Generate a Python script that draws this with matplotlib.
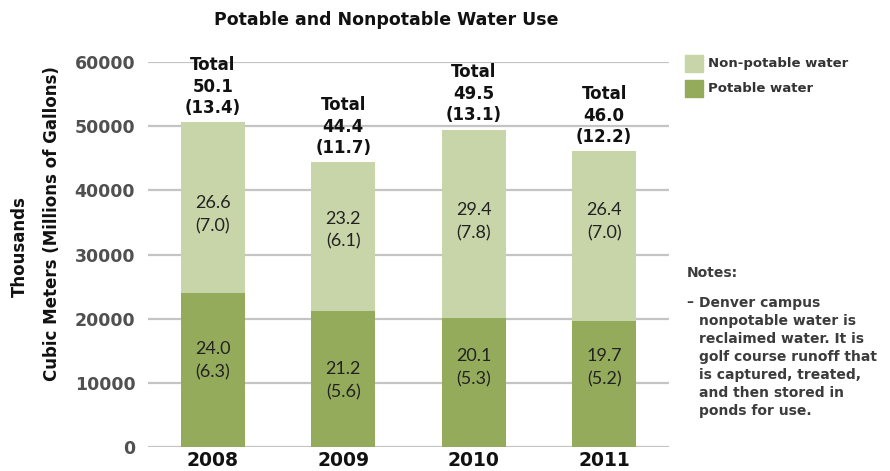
import matplotlib.pyplot as plt
import numpy as np

# Data (thousands of cubic meters, millions of gallons in brackets)
years = ['2008', '2009', '2010', '2011']
potable = [24.0, 21.2, 20.1, 19.7]
potable_gal = [6.3, 5.6, 5.3, 5.2]
nonpotable = [26.6, 23.2, 29.4, 26.4]
nonpotable_gal = [7.0, 6.1, 7.8, 7.0]
totals = [50.1, 44.4, 49.5, 46.0]
totals_gal = [13.4, 11.7, 13.1, 12.2]

# where the in-bar labels sit (y, axis units), as placed in the original
pot_label_y = [13400, 10300, 12300, 12300]
nonpot_label_y = [36200, 33800, 35100, 35100]

light = '#c8d5a9'
dark = '#94ab5c'
bold_font = ['DejaVu Sans']
plain_font = ['Lato', 'DejaVu Sans']

fig = plt.figure(figsize=(8.9, 4.71), dpi=100)
ax = fig.add_axes([0.166, 0.051, 0.586, 0.817])

x = np.arange(len(years))
pot = np.array(potable) * 1000
nonpot = np.array(nonpotable) * 1000

ax.bar(x, pot, width=0.49, color=dark, zorder=2)
ax.bar(x, nonpot, width=0.49, bottom=pot, color=light, zorder=2)

for i in range(len(years)):
    ax.text(x[i], pot_label_y[i], f'{potable[i]:.1f}\n({potable_gal[i]:.1f})',
            ha='center', va='center', fontsize=13, family=plain_font, color='#222222',
            linespacing=1.55, zorder=3)
    ax.text(x[i], nonpot_label_y[i], f'{nonpotable[i]:.1f}\n({nonpotable_gal[i]:.1f})',
            ha='center', va='center', fontsize=13, family=plain_font, color='#222222',
            linespacing=1.55, zorder=3)
    ax.text(x[i], pot[i] + nonpot[i] + 800, f'Total\n{totals[i]:.1f}\n({totals_gal[i]:.1f})',
            ha='center', va='bottom', fontsize=12, fontweight='bold', family=bold_font,
            color='#111111', linespacing=1.25, zorder=3)

ax.set_xlim(-0.5, 3.5)
ax.set_ylim(0, 60000)
ax.set_yticks(range(0, 60001, 10000))
ax.set_xticks(x)
ax.set_xticklabels(years, fontsize=13.5, fontweight='bold', family=bold_font, color='#111111')
for lab in ax.get_yticklabels():
    lab.set_fontsize(12.5)
    lab.set_fontweight('bold')
    lab.set_family(bold_font)
    lab.set_color('#505050')
ax.tick_params(axis='both', length=0)
ax.tick_params(axis='y', pad=9)
ax.tick_params(axis='x', pad=3)
ax.yaxis.grid(True, color='#c4c4c4', linewidth=1.6, zorder=0)
ax.set_axisbelow(True)
for s in ax.spines.values():
    s.set_visible(False)

# y-axis title, two lines placed as in the original
fig.text(20 / 890, 1 - 247 / 471, 'Thousands', rotation=90, ha='center', va='center',
         fontsize=12, fontweight='bold', family=bold_font, color='#111111')
fig.text(52 / 890, 1 - 224 / 471, 'Cubic Meters (Millions of Gallons)', rotation=90,
         ha='center', va='center', fontsize=12, fontweight='bold', family=bold_font,
         color='#111111')

fig.text(386 / 890, 1 - 20 / 471, 'Potable and Nonpotable Water Use', ha='center', va='center',
         fontsize=12.5, fontweight='bold', family=bold_font, color='#111111')

# legend
fig.patches.append(plt.Rectangle((685 / 890, 1 - 72 / 471), 18 / 890, 17 / 471,
                                 transform=fig.transFigure, color=light))
fig.patches.append(plt.Rectangle((685 / 890, 1 - 97 / 471), 18 / 890, 17 / 471,
                                 transform=fig.transFigure, color=dark))
fig.text(708 / 890, 1 - 63 / 471, 'Non-potable water', ha='left', va='center',
         fontsize=9.5, fontweight='bold', family=bold_font, color='#333333')
fig.text(708 / 890, 1 - 89 / 471, 'Potable water', ha='left', va='center',
         fontsize=9.5, fontweight='bold', family=bold_font, color='#333333')

# notes
note_color = '#3c3c3c'
fig.text(687 / 890, 1 - 273 / 471, 'Notes:', ha='left', va='center',
         fontsize=10, fontweight='bold', family=bold_font, color=note_color)
fig.text(686 / 890, 1 - 302 / 471, '\u2013', ha='left', va='center',
         fontsize=10, fontweight='bold', family=bold_font, color=note_color)
fig.text(699 / 890, 1 - 296 / 471,
         'Denver campus\nnonpotable water is\nreclaimed water. It is\n'
         'golf course runoff that\nis captured, treated,\nand then stored in\nponds for use.',
         ha='left', va='top', fontsize=10, fontweight='bold', family=bold_font,
         color=note_color, linespacing=1.36)

fig.savefig('out.png', dpi=100)
